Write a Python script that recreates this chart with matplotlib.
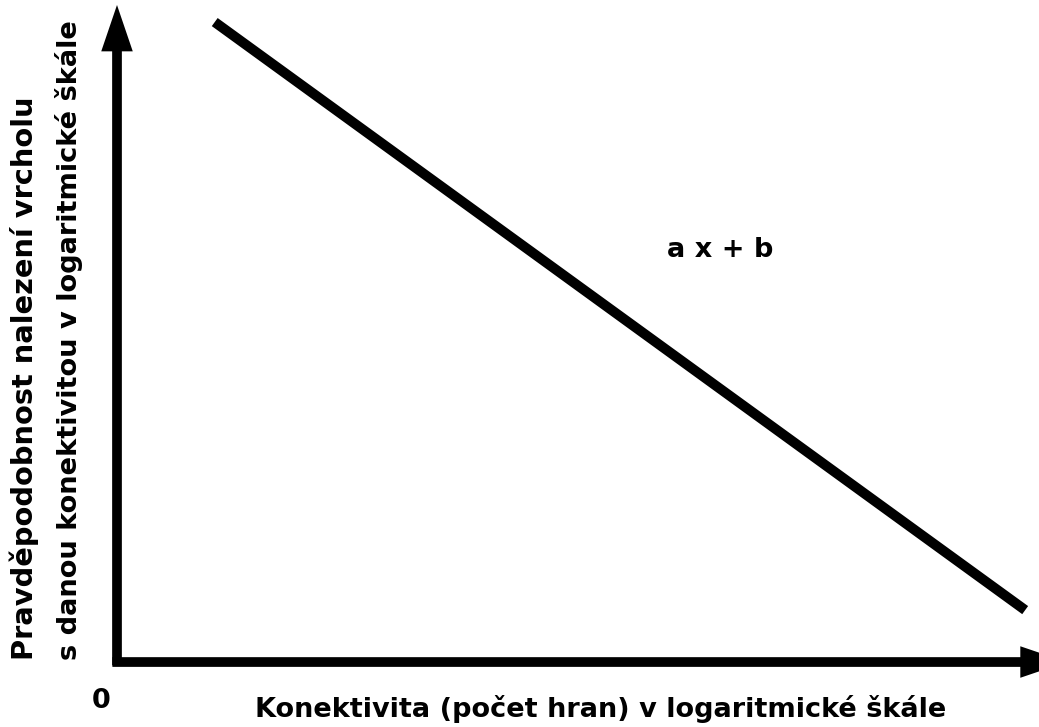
import matplotlib
matplotlib.use("Agg")
import matplotlib.pyplot as plt

# data (abstract units, origin at the axis corner)
line_x = [1.06, 9.85]
line_y = [9.74, 0.79]
x_axis_end = 10.3
y_axis_end = 10.0
formula = "a x + b"
ylabel_1 = "Pravděpodobnost nalezení vrcholu"
ylabel_2 = "s danou konektivitou v logaritmické škále"
xlabel = "Konektivita (počet hran) v logaritmické škále"
origin_label = "0"

plt.rcParams['font.family'] = ['DejaVu Sans']

fig = plt.figure(figsize=(10.39, 7.27), dpi=100)
ax = fig.add_axes([0, 0, 1, 1])
ax.set_xlim(-1.269, 10.0)
ax.set_ylim(-0.989, 10.076)
ax.axis('off')

# axes arrows
arrow = dict(arrowstyle='-|>,head_length=1.0,head_width=0.34', lw=7, color='black',
             mutation_scale=19, shrinkA=0, shrinkB=0, joinstyle='miter', capstyle='butt')
ax.annotate('', xy=(0, y_axis_end), xytext=(0, -0.05), arrowprops=arrow, annotation_clip=False)
ax.annotate('', xy=(x_axis_end, 0), xytext=(-0.05, 0), arrowprops=arrow, annotation_clip=False)

# the line
ax.plot(line_x, line_y, color='black', lw=7.2, solid_capstyle='butt')

fig.text(0.642, 0.6465, formula, fontsize=19.5, fontweight='bold', ha='left', va='baseline')
fig.text(0.0318, 0.0922, ylabel_1, fontsize=20.8, fontweight='bold', rotation=90,
         rotation_mode='anchor', ha='left', va='baseline')
fig.text(0.0741, 0.0922, ylabel_2, fontsize=19.6, fontweight='bold', rotation=90,
         rotation_mode='anchor', ha='left', va='baseline')
fig.text(0.2454, 0.0138, xlabel, fontsize=19.5, fontweight='bold', ha='left', va='baseline')
fig.text(0.0972, 0.0261, origin_label, fontsize=19.5, fontweight='bold', ha='center', va='baseline')

fig.savefig('out.png', dpi=100)
